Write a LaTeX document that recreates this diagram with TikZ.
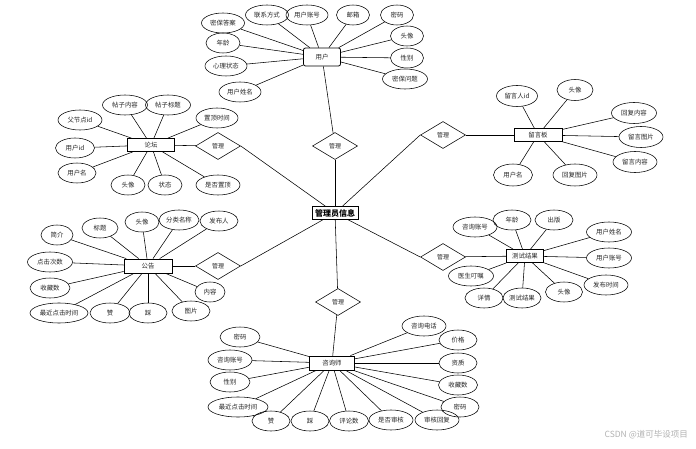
\documentclass[tikz,border=0pt]{standalone}
\usepackage{fontspec}
\newfontfamily\cjk{Noto Sans CJK SC}
\usetikzlibrary{shapes.geometric}
\begin{document}
\begin{tikzpicture}[x=1pt,y=-1pt,
  every node/.style={font=\cjk\fontsize{6.4}{7}\selectfont, inner sep=0pt, text=black!85},
  attr/.style={ellipse, draw, line width=0.55pt, minimum height=20pt},
  ent/.style={rectangle, draw, line width=0.8pt, minimum height=13pt, fill=white},
  rel/.style={diamond, draw, line width=0.55pt, minimum width=45pt, minimum height=27pt, fill=white, font=\cjk\fontsize{6}{7}\selectfont},
  conn/.style={line width=0.55pt}]
\useasboundingbox (0,0) rectangle (696,449);
\fill[white] (0,0) rectangle (696,449);

% ---- centre ----
\node[ent, minimum width=46pt, font=\cjk\fontsize{8}{9}\selectfont\bfseries, text=black] (admin) at (335,213) {管理员信息};
\node[rel] (d1) at (335,146) {管理};
\node[rel] (d2) at (218,146) {管理};
\node[rel] (d3) at (218,266) {管理};
\node[rel] (d4) at (338,302) {管理};
\node[rel] (d5) at (443,257) {管理};
\node[rel] (d6) at (443,135) {管理};

% ---- 用户 ----
\node[ent, rounded corners=2pt, minimum width=37pt, minimum height=18pt] (user) at (322,57) {用户};
\node[attr, minimum width=43pt] (u1) at (223,23) {密保答案};
\node[attr, minimum width=43pt] (u2) at (267,15) {联系方式};
\node[attr, minimum width=42pt] (u3) at (307,15) {用户账号};
\node[attr, minimum width=33pt] (u4) at (353,15) {邮箱};
\node[attr, minimum width=33pt] (u5) at (397,15) {密码};
\node[attr, minimum width=33pt] (u6) at (407,36) {头像};
\node[attr, minimum width=33pt] (u7) at (407,58) {性别};
\node[attr, minimum width=45pt] (u8) at (405,79) {密保问题};
\node[attr, minimum width=34pt] (u9) at (223,43) {年龄};
\node[attr, minimum width=42pt] (u10) at (226,66) {心理状态};
\node[attr, minimum width=42pt] (u11) at (240,92) {用户姓名};

% ---- 论坛 ----
\node[ent, minimum width=47pt] (forum) at (151,145) {论坛};
\node[attr, minimum width=44pt] (f1) at (80,120) {父节点id};
\node[attr, minimum width=45pt] (f2) at (125,105) {帖子内容};
\node[attr, minimum width=45pt] (f3) at (168,105) {帖子标题};
\node[attr, minimum width=42pt] (f4) at (217,118) {置顶时间};
\node[attr, minimum width=39pt] (f5) at (75,148) {用户id};
\node[attr, minimum width=38pt] (f6) at (77,173) {用户名};
\node[attr, minimum width=34pt] (f7) at (128,185) {头像};
\node[attr, minimum width=34pt] (f8) at (165,185) {状态};
\node[attr, minimum width=44pt] (f9) at (218,185) {是否置顶};

% ---- 公告 ----
\node[ent, minimum width=48pt, minimum height=14pt] (notice) at (148,266) {公告};
\node[attr, minimum width=32pt] (n1) at (57,235) {简介};
\node[attr, minimum width=36pt] (n2) at (100,228) {标题};
\node[attr, minimum width=34pt] (n3) at (142,222) {头像};
\node[attr, minimum width=40pt] (n4) at (179,220) {分类名称};
\node[attr, minimum width=38pt] (n5) at (219,221) {发布人};
\node[attr, minimum width=45pt] (n6) at (50,262) {点击次数};
\node[attr, minimum width=40pt] (n7) at (50,288) {收藏数};
\node[attr, minimum width=58pt] (n8) at (59,313) {最近点击时间};
\node[attr, minimum width=40pt] (n9) at (110,313) {赞};
\node[attr, minimum width=38pt] (n10) at (148,313) {踩};
\node[attr, minimum width=38pt] (n11) at (191,311) {图片};
\node[attr, minimum width=30pt] (n12) at (210,292) {内容};

% ---- 咨询师 ----
\node[ent, minimum width=45pt, minimum height=14pt] (coun) at (332,363) {咨询师};
\node[attr, minimum width=40pt] (c1) at (240,337) {密码};
\node[attr, minimum width=44pt] (c2) at (230,360) {咨询账号};
\node[attr, minimum width=40pt] (c3) at (230,382) {性别};
\node[attr, minimum width=60pt] (c4) at (238,407) {最近点击时间};
\node[attr, minimum width=38pt] (c5) at (271,421) {赞};
\node[attr, minimum width=38pt] (c6) at (310,421) {踩};
\node[attr, minimum width=39pt] (c7) at (349,421) {评论数};
\node[attr, minimum width=44pt] (c8) at (391,420) {是否审核};
\node[attr, minimum width=44pt] (c9) at (437,420) {审核回复};
\node[attr, minimum width=38pt] (c10) at (460,407) {密码};
\node[attr, minimum width=39pt] (c11) at (458,385) {收藏数};
\node[attr, minimum width=38pt] (c12) at (458,363) {资质};
\node[attr, minimum width=38pt] (c13) at (458,340) {价格};
\node[attr, minimum width=44pt] (c14) at (424,326) {咨询电话};

% ---- 测试结果 ----
\node[ent, minimum width=37pt, line width=1pt] (test) at (525,256) {测试结果};
\node[attr, minimum width=44pt] (t1) at (475,227) {咨询账号};
\node[attr, minimum width=38pt] (t2) at (512,220) {年龄};
\node[attr, minimum width=38pt] (t3) at (554,220) {出版};
\node[attr, minimum width=45pt] (t4) at (609,232) {用户姓名};
\node[attr, minimum width=45pt] (t5) at (609,258) {用户账号};
\node[attr, minimum width=44pt] (t6) at (606,285) {发布时间};
\node[attr, minimum width=45pt] (t7) at (471,276) {医生叮嘱};
\node[attr, minimum width=38pt] (t8) at (484,298) {详情};
\node[attr, minimum width=38pt] (t9) at (522,298) {测试结果};
\node[attr, minimum width=37pt] (t10) at (564,292) {头像};

% ---- 留言板 ----
\node[ent, minimum width=48pt] (board) at (538,135) {留言板};
\node[attr, minimum width=41pt, minimum height=21pt] (b1) at (517,96) {留言人id};
\node[attr, minimum width=36pt, minimum height=21pt] (b2) at (575,90) {头像};
\node[attr, minimum width=45pt, minimum height=21pt] (b3) at (634,113) {回复内容};
\node[attr, minimum width=44pt, minimum height=21pt] (b4) at (641,137) {留言图片};
\node[attr, minimum width=44pt, minimum height=21pt] (b5) at (635,162) {留言内容};
\node[attr, minimum width=39pt, minimum height=22pt] (b6) at (513,175) {用户名};
\node[attr, minimum width=44pt, minimum height=22pt] (b7) at (575,175) {回复图片};

% ---- connectors ----
\foreach \a in {u1,u2,u3,u4,u5,u6,u7,u8,u9,u10,u11} \draw[conn] (\a) -- (user);
\foreach \a in {f1,f2,f3,f4,f5,f6,f7,f8,f9} \draw[conn] (\a) -- (forum);
\foreach \a in {n1,n2,n3,n4,n5,n6,n7,n8,n9,n10,n11,n12} \draw[conn] (\a) -- (notice);
\foreach \a in {c1,c2,c3,c4,c5,c6,c7,c8,c9,c10,c11,c12,c13,c14} \draw[conn] (\a) -- (coun);
\foreach \a in {t1,t2,t3,t4,t5,t6,t7,t8,t9,t10} \draw[conn] (\a) -- (test);
\foreach \a in {b1,b2,b3,b4,b5,b6,b7} \draw[conn] (\a) -- (board);

\draw[conn] (user) -- (d1);
\draw[conn] (d1) -- (admin);
\draw[conn] (forum) -- (d2);
\draw[conn] (d2.east) -- (admin);
\draw[conn] (notice) -- (d3);
\draw[conn] (d3.east) -- (admin);
\draw[conn] (admin) -- (d4);
\draw[conn] (d4) -- (coun);
\draw[conn] (admin) -- (d5.west);
\draw[conn] (d5) -- (test);
\draw[conn] (admin) -- (d6.west);
\draw[conn] (d6) -- (board);

% watermark
\node[font=\cjk\fontsize{8.5}{10}\selectfont, text=black!30, anchor=east] (wm) at (688,435) {CSDN @道可毕设项目};
\end{tikzpicture}
\end{document}
